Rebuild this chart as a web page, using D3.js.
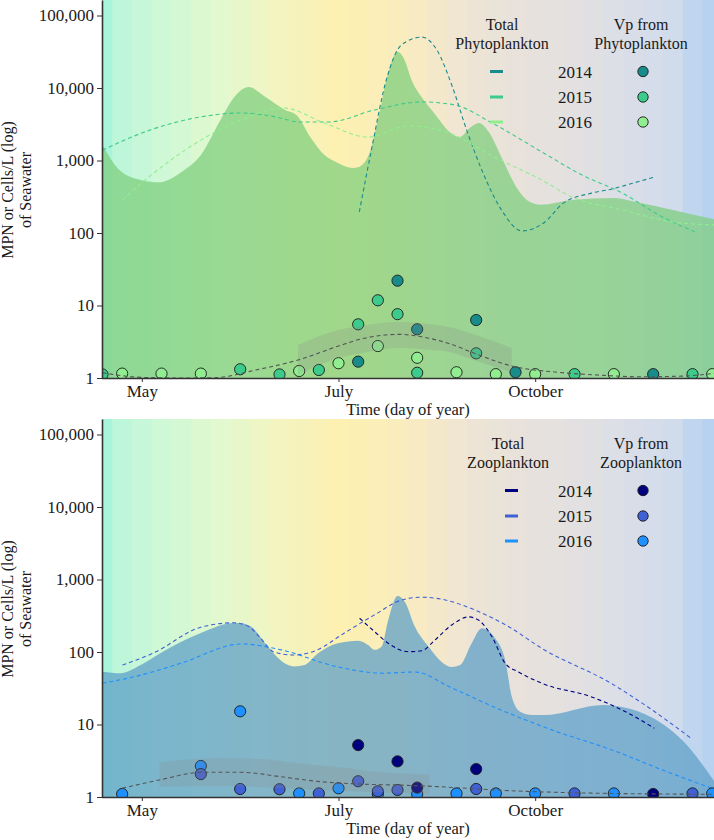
<!DOCTYPE html>
<html><head><meta charset="utf-8">
<script src="https://cdn.jsdelivr.net/npm/d3@7"></script>
<style>
body{margin:0;background:#fff}
svg{display:block}
text{font-family:"Liberation Serif","Times New Roman",serif;fill:#1a1a1a}
</style>
</head><body>
<svg id="chart" width="714" height="840"></svg>
<script>
// ---------------- DATA ----------------
const years = ["2014", "2015", "2016"];
const xTickDays = [118, 188, 258];
const xTickLabels = ["May", "July", "October"];
const yTicks = [1, 10, 100, 1000, 10000, 100000];

// weekly background stripe colours (start day 104, one per week)
const bgColors = ["#a8f5dc","#bdf6d9","#c6f7d8","#cef8d6","#d4f8d3","#dcf8d1","#e2f8cf","#e8f7ca",
  "#eef6c6","#f3f4c0","#f6f2bb","#faf1b6","#fdf0b0","#fcefb4","#fbeeb8","#faedbd",
  "#f8ebc3","#f4e8cb","#f0e6d2","#ede4d5","#eae3d8","#e8e2da","#e6e1dc","#e4e1de",
  "#e2e0e1","#e0e0e3","#dddfe6","#d9dde8","#d5dcea","#d0dbec","#c0d6ef","#b6d2f0"];

// Phytoplankton panel: total (shaded) [day, value]
const phytoTotal = [[104,1630],[110,740],[118,535],[124,500],[132,690],[139,1190],[146,3630],[151,7550],
  [156,10300],[162,7500],[169,4970],[173,4240],[178,2100],[183,1190],[188,920],[193,790],[195,810],
  [199,1260],[202,3630],[206,17700],[209,31500],[211.5,24400],[214,12900],[217.5,7550],[222,4530],
  [228,2400],[231,2100],[235,2880],[238,3300],[241.5,2470],[246,1110],[252,390],[256,270],[260,245],
  [271,285],[286.5,305],[293.5,270],[307,208],[323,150]];
const phytoLine2014 = [[195.4,195],[199.7,1390],[205,12900],[210.4,39200],[217.6,50300],[223,33500],
  [228.3,11000],[233.6,2640],[239,740],[246,208],[253.3,107],[261.5,142],[268,258],[278,355],[285.4,405],
  [293,490],[300.4,590]];
const phytoLine2015 = [[104,1390],[121,2640],[139,3990],[153.3,4530],[164,4100],[174.7,3390],[184.4,3390],
  [200.8,4970],[217.6,6430],[229.4,5830],[242.6,3300],[260.4,1310],[274.7,630],[289,356],[303.3,166],[315,103]];
const phytoLine2016 = [[111,285],[122.2,670],[139,1910],[153.3,3630],[168.6,5290],[182.9,3300],[198.6,2100],
  [212.9,3000],[227.2,2400],[243.6,1110],[260.4,535],[271,315],[289,208],[307,142],[322.3,129]];
const phytoVp2014 = [[195,1.68],[209,22],[216,4.7],[237,6.3],[251,1.2],[300,1.13]];
const phytoVp2015 = [[104,1.12],[153,1.32],[167,1.12],[181,1.29],[195,5.5],[202,11.8],[209,7.6],[216,1.18],
  [237,2.19],[272,1.13],[314,1.13]];
const phytoVp2016 = [[111,1.15],[125,1.15],[139,1.15],[174,1.25],[188,1.6],[202,2.76],[216,1.9],[230,1.2],
  [244,1.13],[258,1.13],[286,1.13],[321,1.13]];
const phytoFit = [[104,1.18],[118,1.02],[132,1.0],[144,1.01],[158.6,1.29],[173.6,1.77],[188,2.76],[196,3.45],
  [209.7,4.0],[217.6,3.7],[227.2,3.0],[238,2.07],[249.7,1.46],[266,1.2],[280,1.1],[295,1.04],[310,1.06],[322,1.16]];
const phytoBand = [[173.6,1.1,2.85],[188,1.89,4.6],[196,2.2,5.2],[209.7,2.6,5.9],[217.6,2.5,5.7],
  [227.2,2.3,5.05],[238,1.66,3.8],[249.7,1.21,2.6]];

// Zooplankton panel
const zooTotal = [[104,53.5],[110.4,51],[117.6,66],[124.7,97],[139,183],[150.8,251],[153.3,250],[156.9,224],
  [162.8,119],[168.8,70],[172.3,63],[175.9,66],[180.7,96],[187.8,132],[195,143],[198.5,125],[200.9,107],
  [203.3,118],[205.7,276],[209,590],[211.6,495],[215.2,223],[220,119],[224.7,73],[228.3,62],[231.3,66],
  [235.4,132],[239,212],[243.8,154],[247.3,78],[249.7,24],[252.7,15],[256.9,13.5],[261.1,13.5],[282.2,18.6],
  [299,12.8],[310.3,6.1],[323,1.39]];
const zooLine2014 = [[195.5,292],[200.9,190],[205.7,132],[212.8,101],[217.6,104],[222.3,146],[228.3,236],
  [234.3,305],[237.8,276],[242.6,163],[247.3,70],[252.1,53],[260.4,37],[278.1,24],[289,15.8],[300.4,8.9]];
const zooLine2015 = [[111.1,66],[122.2,97],[139,220],[150.8,253],[156,225],[160,160],[165,100],[172,91],
  [180,105],[190.1,183],[200.8,325],[210.4,520],[217.6,570],[224.7,535],[236.5,380],[248.6,223],[260.4,112],
  [285,37],[299.7,15.8],[313.6,6.4]];
const zooLine2016 = [[104,37],[117.6,48],[131.9,70],[153.6,129],[167.6,107],[187.2,63],[204,51],[215.1,53],
  [228.3,32],[243.1,17.6],[264,8.4],[285,4.5],[303.3,2.36],[322.5,1.25]];
const zooVp2014 = [[195,5.2],[209,3.1],[216,1.35],[237,2.43],[300,1.1]];
const zooVp2015 = [[139,2.07],[153,1.29],[167,1.28],[181,1.12],[195,1.65],[202,1.2],[209,1.25],[237,1.29],
  [272,1.12],[314,1.12]];
const zooVp2016 = [[111,1.1],[139,2.68],[153,15.2],[174,1.12],[188,1.32],[202,1.1],[216,1.1],[230,1.12],
  [244,1.12],[258,1.12],[286,1.12],[321,1.12]];
const zooFit = [[111,1.32],[124.3,1.72],[139.4,2.19],[153.6,2.19],[167.6,1.9],[181.5,1.63],[195.6,1.51],
  [209.6,1.46],[223.5,1.39],[237.6,1.29],[251.5,1.21],[265.4,1.16],[285.1,1.12],[322.1,1.09]];
const zooBand = [[124.3,1.37,3.0],[145.3,1.42,3.45],[160.4,1.37,3.34],[173.3,1.29,2.94],[189,1.21,2.55],
  [201.1,1.17,2.23],[220.4,1.1,2.05]];

const phytoColors = ["#188b8b", "#3ccb8b", "#90ee90"];
const zooColors = ["#00007f", "#4061d4", "#1e90ff"];

// ---------------- DRAW ----------------
const svg = d3.select("#chart");
const L = 102, R = 714, PH = 378;
const FONT = "'Liberation Serif','Times New Roman',serif";
const x = d3.scaleLinear().domain([104, 322]).range([102.5, 715]);

function panel(cfg) {
  const top = cfg.top, bottom = top + PH;
  const y = d3.scaleLog().domain([1, Math.pow(10, PH / 72.5)]).range([bottom, top]);
  const g = svg.append("g");
  const clipId = "clip" + cfg.id;
  svg.append("clipPath").attr("id", clipId).append("rect")
    .attr("x", L).attr("y", top).attr("width", R - L).attr("height", PH);
  const pg = g.append("g").attr("clip-path", `url(#${clipId})`);

  // background stripes
  pg.selectAll("rect.bg").data(bgColors).join("rect").attr("class", "bg")
    .attr("x", (c, i) => i === 0 ? L : x(104 + 7 * i - 3.5))
    .attr("width", (c, i) => (i === 0 ? x(107.5) - L : x(104 + 7 * i + 3.5) - x(104 + 7 * i - 3.5)) + 0.6)
    .attr("y", top).attr("height", PH).attr("fill", c => c);

  // total area
  const area = d3.area().x(d => x(d[0])).y0(bottom).y1(d => y(d[1])).curve(d3.curveMonotoneX);
  pg.append("path").datum(cfg.total).attr("d", area)
    .attr("fill", cfg.areaFill).attr("fill-opacity", cfg.areaOpacity);

  // yearly dashed lines
  const line = d3.line().x(d => x(d[0])).y(d => y(d[1])).curve(d3.curveMonotoneX);
  cfg.lines.forEach((ln, i) => {
    pg.append("path").datum(ln).attr("d", line).attr("fill", "none")
      .attr("stroke", cfg.colors[i]).attr("stroke-width", 1.1).attr("stroke-dasharray", "4,3");
  });

  // points (2016 first, 2014 last)
  [2, 1, 0].forEach(i => {
    pg.selectAll(null).data(cfg.points[i]).join("circle")
      .attr("cx", d => x(d[0])).attr("cy", d => y(d[1])).attr("r", 5.6)
      .attr("fill", cfg.colors[i]).attr("stroke", "#1a1a1a").attr("stroke-width", 0.9);
  });

  // confidence band
  const band = d3.area().x(d => x(d[0])).y0(d => y(d[1])).y1(d => y(d[2])).curve(d3.curveMonotoneX);
  pg.append("path").datum(cfg.band).attr("d", band).attr("fill", "#8a8a8a").attr("fill-opacity", 0.22);

  // fit line
  pg.append("path").datum(cfg.fit).attr("d", line).attr("fill", "none")
    .attr("stroke", "#555").attr("stroke-width", 1.1).attr("stroke-dasharray", "4,3");

  // axes
  const ya = g.append("g").attr("transform", `translate(${L},0)`)
    .call(d3.axisLeft(y).tickValues(yTicks).tickFormat(d3.format(",")).tickSize(5).tickSizeOuter(0).tickPadding(3));
  ya.attr("font-family", FONT);
  ya.select(".domain").attr("stroke", "#333").attr("stroke-width", 1.6);
  ya.selectAll(".tick line").attr("stroke", "#333");
  ya.selectAll("text").attr("font-size", 17).attr("fill", "#1a1a1a");

  const xa = g.append("g").attr("transform", `translate(0,${bottom})`)
    .call(d3.axisBottom(x).tickValues(xTickDays).tickFormat((d, i) => xTickLabels[i]).tickSize(4).tickSizeOuter(0).tickPadding(3));
  xa.attr("font-family", FONT);
  xa.select(".domain").attr("stroke", "#333").attr("stroke-width", 1.6).attr("d", `M${L},0.5H${R}`);
  xa.selectAll(".tick line").attr("stroke", "#333");
  xa.selectAll("text").attr("font-size", 17).attr("fill", "#1a1a1a");

  g.append("text").attr("x", (L + R) / 2).attr("y", bottom + 37).attr("text-anchor", "middle")
    .attr("font-size", 16.5).text("Time (day of year)");

  const yc = top + 190;
  g.append("text").attr("transform", `translate(13,${yc}) rotate(-90)`).attr("text-anchor", "middle")
    .attr("font-size", 16).text("MPN or Cells/L (log)");
  g.append("text").attr("transform", `translate(31,${yc}) rotate(-90)`).attr("text-anchor", "middle")
    .attr("font-size", 16).text("of Seawater");

  // legend
  const lg = g.append("g");
  lg.append("text").attr("x", cfg.legTitleX).attr("y", top + 30).attr("text-anchor", "middle").attr("font-size", 16).text("Total");
  lg.append("text").attr("x", cfg.legTitleX).attr("y", top + 49).attr("text-anchor", "middle").attr("font-size", 16).text(cfg.name);
  lg.append("text").attr("x", 641).attr("y", top + 30).attr("text-anchor", "middle").attr("font-size", 16).text("Vp from");
  lg.append("text").attr("x", 641).attr("y", top + 49).attr("text-anchor", "middle").attr("font-size", 16).text(cfg.name);
  const rows = [71.5, 97, 122];
  years.forEach((yr, i) => {
    const ry = top + rows[i];
    lg.append("line").attr("x1", cfg.keyX).attr("x2", cfg.keyX + 13).attr("y1", ry).attr("y2", ry)
      .attr("stroke", cfg.colors[i]).attr("stroke-width", 3);
    lg.append("text").attr("x", 575).attr("y", ry + 6).attr("text-anchor", "middle").attr("font-size", 17).text(yr);
    lg.append("circle").attr("cx", 643).attr("cy", ry).attr("r", 5.2)
      .attr("fill", cfg.colors[i]).attr("stroke", "#1a1a1a").attr("stroke-width", 0.9);
  });
}

panel({
  id: 1, top: 0, name: "Phytoplankton", total: phytoTotal,
  areaFill: "#7ccd7c", areaOpacity: 0.72,
  lines: [phytoLine2014, phytoLine2015, phytoLine2016],
  points: [phytoVp2014, phytoVp2015, phytoVp2016],
  fit: phytoFit, band: phytoBand, colors: phytoColors,
  legTitleX: 502, keyX: 490
});
panel({
  id: 2, top: 419, name: "Zooplankton", total: zooTotal,
  areaFill: "#5fa0c8", areaOpacity: 0.75,
  lines: [zooLine2014, zooLine2015, zooLine2016],
  points: [zooVp2014, zooVp2015, zooVp2016],
  fit: zooFit, band: zooBand, colors: zooColors,
  legTitleX: 508, keyX: 505
});
</script>
</body></html>
